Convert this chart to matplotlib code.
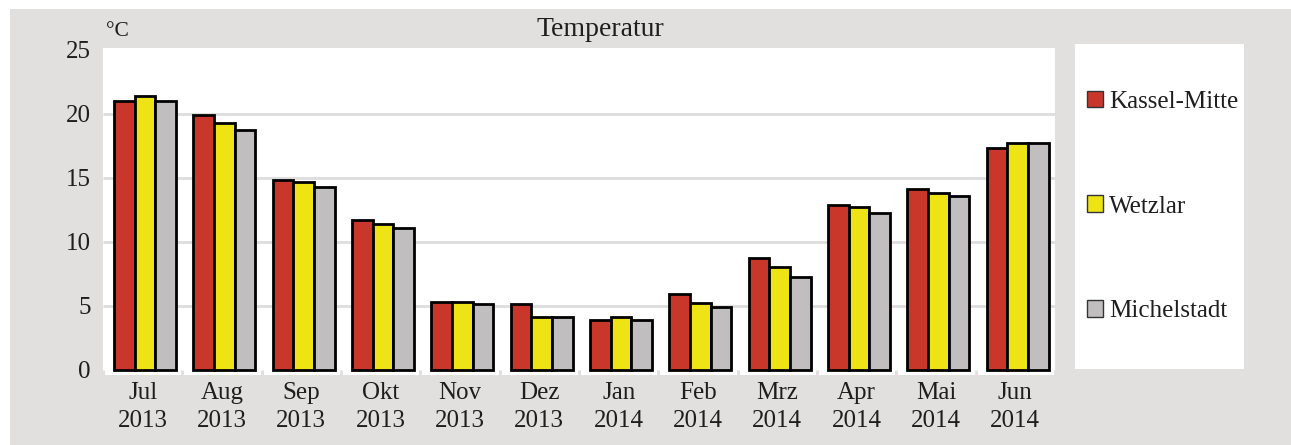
import matplotlib
matplotlib.use("Agg")
import matplotlib.pyplot as plt
from matplotlib.patches import Patch

# Monthly mean temperatures (°C), July 2013 – June 2014
months = ["Jul\n2013", "Aug\n2013", "Sep\n2013", "Okt\n2013", "Nov\n2013", "Dez\n2013",
          "Jan\n2014", "Feb\n2014", "Mrz\n2014", "Apr\n2014", "Mai\n2014", "Jun\n2014"]
stations = ["Kassel-Mitte", "Wetzlar", "Michelstadt"]
kassel = [21.0, 19.9, 14.8, 11.7, 5.3, 5.1, 3.9, 5.9, 8.7, 12.9, 14.1, 17.3]
wetzlar = [21.4, 19.3, 14.7, 11.4, 5.3, 4.1, 4.1, 5.2, 8.0, 12.7, 13.8, 17.7]
michelstadt = [21.0, 18.7, 14.3, 11.1, 5.1, 4.1, 3.9, 4.9, 7.2, 12.2, 13.6, 17.7]
yticks = [0, 5, 10, 15, 20, 25]

colors = ["#c9362a", "#eee314", "#c0bebf"]
bg = "#e1e0df"
font = ["Liberation Serif", "DejaVu Serif"]
plt.rcParams["font.family"] = font
plt.rcParams["text.color"] = "#1e1e1e"

W, H = 1291, 445
fig = plt.figure(figsize=(W / 100, H / 100), dpi=100)
fig.patch.set_facecolor("white")

# gray panel behind everything (white margin at top and left)
panel = fig.add_axes([10 / W, 0, 1 - 10 / W, 1 - 9 / H])
panel.set_facecolor(bg)
panel.set_xticks([]); panel.set_yticks([])
for s in panel.spines.values():
    s.set_visible(False)
panel.set_zorder(0)

# main plot area
x0, x1, ytop, ybot = 103, 1055, 48, 375
ax = fig.add_axes([x0 / W, 1 - ybot / H, (x1 - x0) / W, (ybot - ytop) / H])
ax.set_zorder(1)
ax.set_facecolor("white")
for s in ax.spines.values():
    s.set_visible(False)

n = len(months)
xs = list(range(n))
bw = 0.26
series = [kassel, wetzlar, michelstadt]
for k, (vals, c) in enumerate(zip(series, colors)):
    ax.bar([x + (k - 1) * bw + 0.03 for x in xs], vals, width=bw, color=c,
           edgecolor="black", linewidth=2.0, zorder=3)

ax.set_xlim(-0.5, n - 0.5)
ax.set_ylim(-0.43, 25.14)

# horizontal grid lines
ax.hlines(yticks[1:-1], -0.5, n - 0.5, colors="#dddddd", linewidth=2, zorder=1)
# small gaps in the base strip between months
ax.vlines([i - 0.5 for i in range(n + 1)], -0.43, 0, colors=bg, linewidth=2.2, zorder=2)

ax.set_yticks(yticks)
ax.set_yticklabels([str(v) for v in yticks], fontsize=18)
ax.set_xticks(xs)
ax.set_xticklabels(months, fontsize=18, linespacing=1.38)
ax.tick_params(axis="both", length=0, colors="#1e1e1e")
ax.tick_params(axis="y", pad=9)
ax.tick_params(axis="x", pad=5)

fig.text(600 / W, 1 - 30 / H, "Temperatur", ha="center", va="center", fontsize=20)
fig.text(106 / W, 1 - 31 / H, "°C", ha="left", va="center", fontsize=15.5)

# legend panel
lx0, lx1, ly0, ly1 = 1075, 1244, 44, 369
lax = fig.add_axes([lx0 / W, 1 - ly1 / H, (lx1 - lx0) / W, (ly1 - ly0) / H])
lax.set_zorder(1)
lax.set_facecolor("white")
lax.set_xticks([]); lax.set_yticks([])
for s in lax.spines.values():
    s.set_visible(False)
handles = [Patch(facecolor=c, edgecolor="#333333", linewidth=1.0) for c in colors]
lax.legend(handles, stations, loc="center left", bbox_to_anchor=(12 / (lx1 - lx0), 0.5),
           frameon=False, fontsize=18, handlelength=0.64, handleheight=0.64,
           handletextpad=0.25, labelspacing=3.3, borderpad=0, borderaxespad=0)

fig.savefig("out.png", dpi=100, facecolor=fig.get_facecolor())
